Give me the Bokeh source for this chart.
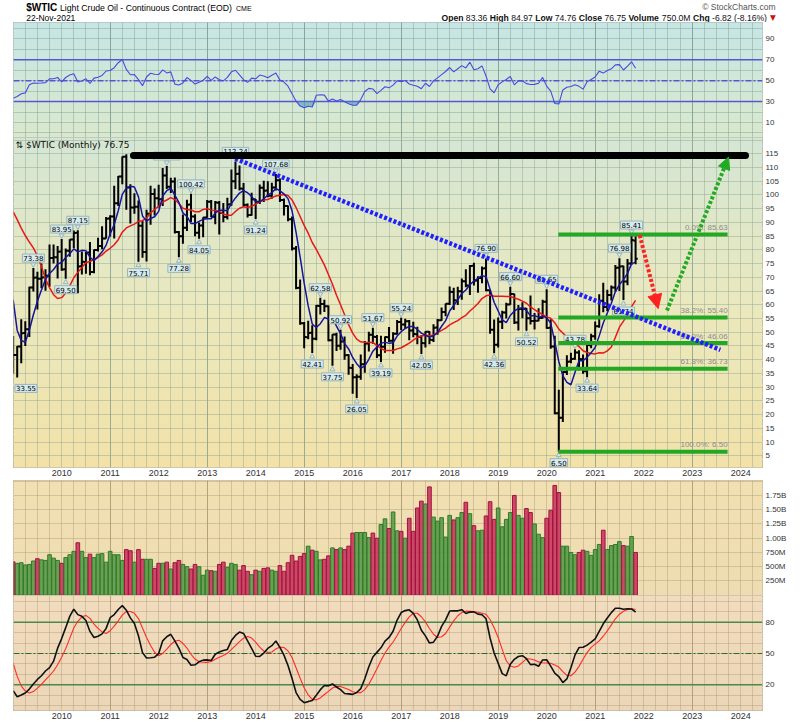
import numpy as np
from bokeh.plotting import figure
from bokeh.layouts import column
from bokeh.models import Range1d, FixedTicker, Grid, Arrow, NormalHead
from bokeh.embed import file_html
from bokeh.resources import INLINE
from bokeh.core.properties import value

# ---------------- DATA (monthly, Jan 2009 .. Nov 2021) ----------------
START_YEAR = 2009
opens = [
    44.6, 41.7, 44.8, 49.7, 51.1, 66.3, 69.9, 69.5, 70.0, 70.6, 77.0, 77.3,
    79.4, 72.9, 79.7, 83.8, 86.2, 74.0, 75.6, 79.0, 71.9, 80.0, 81.4, 84.1,
    91.4, 92.2, 97.0, 106.7, 113.9, 102.7, 95.4, 95.7, 88.8, 79.2, 93.2, 100.4,
    98.8, 98.5, 107.1, 103.0, 104.9, 86.5, 85.0, 88.1, 96.5, 92.2, 86.2, 88.9,
    91.8, 97.5, 92.1, 97.2, 93.5, 92.0, 96.6, 105.0, 107.7, 102.3, 96.4, 92.7,
    98.4, 97.5, 102.6, 101.6, 99.7, 102.7, 105.4, 98.2, 96.0, 91.2, 80.5, 66.2,
    53.3, 48.2, 49.8, 47.6, 59.6, 60.3, 59.5, 47.1, 49.2, 45.1, 46.6, 41.7,
    37.0, 33.6, 33.8, 38.3, 45.9, 49.1, 48.3, 41.6, 44.7, 48.2, 46.9, 49.4,
    53.7, 52.8, 54.0, 50.6, 49.3, 48.3, 46.0, 50.2, 47.2, 51.7, 54.4, 57.4,
    60.4, 64.7, 61.6, 64.9, 68.6, 67.0, 74.2, 68.8, 69.8, 73.3, 65.3, 50.9,
    45.4, 53.8, 57.2, 60.1, 63.9, 53.5, 58.5, 58.6, 55.1, 54.1, 54.2, 55.2,
    61.1, 51.6, 44.8, 20.5, 18.8, 35.5, 39.3, 40.3, 42.6, 40.2, 35.8, 45.3,
    48.5, 52.2, 61.5, 59.2, 63.6, 66.3, 73.5, 74.0, 68.5, 75.0, 83.36,
]
highs = [
    48.6, 45.0, 54.7, 54.0, 66.6, 73.38, 72.0, 75.0, 72.9, 82.0, 82.0, 81.4,
    83.95, 80.5, 83.9, 87.1, 87.15, 79.4, 79.2, 82.9, 80.1, 84.4, 88.6, 92.0,
    92.6, 103.4, 106.9, 114.0, 114.8, 103.9, 100.6, 98.0, 90.5, 94.6, 103.4, 102.4,
    103.7, 109.8, 110.55, 106.3, 106.4, 86.9, 92.9, 98.3, 100.42, 93.0, 90.0, 91.9,
    98.2, 98.2, 97.8, 97.8, 97.1, 99.0, 109.3, 112.24, 110.7, 104.4, 96.9, 100.8,
    98.5, 103.8, 105.2, 105.0, 104.5, 107.68, 106.0, 98.7, 96.2, 92.2, 81.4, 69.2,
    53.7, 54.2, 52.5, 59.9, 62.58, 61.8, 59.7, 49.3, 49.8, 50.92, 48.4, 42.0,
    38.4, 34.7, 41.9, 46.8, 50.2, 51.67, 49.0, 48.75, 48.4, 51.9, 50.0, 54.5,
    55.24, 54.9, 54.5, 53.8, 52.0, 48.9, 50.4, 50.4, 52.9, 54.8, 59.0, 60.5,
    66.7, 66.2, 66.6, 69.6, 72.9, 74.5, 75.3, 70.4, 73.9, 76.90, 65.4, 54.6,
    55.4, 57.8, 60.7, 66.60, 64.0, 59.9, 60.9, 58.8, 63.4, 57.0, 58.7, 61.8,
    65.65, 54.7, 48.7, 29.0, 35.7, 41.6, 42.5, 43.78, 43.4, 41.9, 46.0, 49.4,
    53.9, 63.8, 67.98, 65.5, 67.0, 74.5, 76.98, 74.2, 76.7, 85.41, 84.97,
]
lows = [
    35.0, 33.55, 38.7, 45.0, 48.3, 64.8, 58.3, 66.0, 65.1, 66.6, 75.0, 69.6,
    72.4, 69.50, 77.5, 80.6, 64.2, 71.0, 71.3, 70.8, 71.5, 79.4, 80.2, 84.1,
    84.9, 84.1, 96.0, 103.9, 94.6, 89.6, 93.2, 75.71, 77.1, 75.8, 89.2, 92.5,
    95.4, 96.0, 102.2, 100.7, 86.0, 77.28, 82.2, 86.9, 90.2, 85.0, 84.05, 84.6,
    91.7, 91.9, 89.3, 85.6, 90.1, 91.1, 96.1, 102.2, 101.6, 95.8, 91.8, 92.4,
    91.24, 96.7, 97.4, 99.2, 98.6, 101.6, 97.4, 92.5, 90.4, 79.8, 65.7, 52.7,
    44.2, 47.4, 42.41, 47.1, 56.5, 57.4, 46.7, 37.75, 43.2, 43.6, 40.0, 34.5,
    27.6, 26.05, 32.7, 35.2, 43.0, 45.8, 40.6, 39.19, 42.5, 46.4, 42.2, 49.2,
    50.7, 51.2, 47.1, 48.2, 45.6, 42.05, 44.4, 45.6, 46.4, 49.1, 54.2, 55.8,
    59.9, 58.1, 59.95, 61.8, 66.4, 63.6, 67.0, 64.4, 67.8, 64.9, 49.4, 42.36,
    44.4, 51.2, 55.0, 60.0, 53.0, 50.6, 55.1, 50.52, 52.8, 51.0, 54.0, 55.0,
    51.3, 44.0, 20.1, 6.50, 17.3, 34.4, 38.7, 40.0, 36.1, 34.9, 33.64, 44.2,
    47.3, 51.6, 57.3, 57.6, 61.6, 64.8, 65.0, 61.74, 67.1, 74.5, 74.76,
]
closes = [
    41.68, 44.76, 49.66, 51.12, 66.31, 69.89, 69.45, 69.96, 70.61, 77.00, 77.28, 79.36,
    72.89, 79.66, 83.76, 86.15, 73.97, 75.63, 78.95, 71.92, 79.97, 81.43, 84.11, 91.38,
    92.19, 96.97, 106.72, 113.93, 102.70, 95.42, 95.70, 88.81, 79.20, 93.19, 100.36, 98.83,
    98.48, 107.07, 103.02, 104.87, 86.53, 84.96, 88.06, 96.47, 92.19, 86.24, 88.91, 91.82,
    97.49, 92.05, 97.23, 93.46, 91.97, 96.56, 105.03, 107.65, 102.33, 96.38, 92.72, 98.42,
    97.49, 102.59, 101.58, 99.74, 102.71, 105.37, 98.17, 95.96, 91.16, 80.54, 66.15, 53.27,
    48.24, 49.76, 47.60, 59.63, 60.30, 59.47, 47.12, 49.20, 45.09, 46.59, 41.65, 37.04,
    33.62, 33.75, 38.34, 45.92, 49.10, 48.33, 41.60, 44.70, 48.24, 46.86, 49.44, 53.72,
    52.81, 54.01, 50.60, 49.33, 48.32, 46.04, 50.17, 47.23, 51.67, 54.38, 57.40, 60.42,
    64.73, 61.64, 64.94, 68.57, 67.04, 74.15, 68.76, 69.80, 73.25, 65.31, 50.93, 45.41,
    53.79, 57.22, 60.14, 63.91, 53.50, 58.47, 58.58, 55.10, 54.07, 54.18, 55.17, 61.06,
    51.56, 44.76, 20.48, 18.84, 35.49, 39.27, 40.27, 42.61, 40.22, 35.79, 45.34, 48.52,
    52.20, 61.50, 59.16, 63.58, 66.32, 73.47, 73.95, 68.50, 75.03, 83.57, 76.75,
]
volume_m = [
    586, 558, 570, 530, 540, 600, 640, 620, 610, 710, 650, 610,
    560, 660, 710, 770, 920, 770, 660, 720, 660, 720, 730, 580,
    770, 710, 710, 610, 800, 780, 580, 800, 630, 630, 630, 470,
    560, 560, 580, 460, 570, 610, 540, 500, 460, 540, 500, 350,
    440, 430, 420, 540, 580, 490, 560, 540, 440, 520, 420, 360,
    440, 420, 470, 480, 440, 420, 520, 420, 570, 700, 600, 680,
    730, 860, 790, 770, 620, 630, 690, 830, 800, 830, 800, 860,
    1090, 1100, 1100, 1100, 1010, 1090, 1000, 1240, 1340, 1170, 1460, 1130,
    1120, 1000, 1350, 1120, 1530, 1650, 1600, 1900, 1370, 1300, 1360, 1020,
    1400, 1320, 1360, 1450, 1630, 1430, 1220, 1130, 1140, 1390, 1640, 1330,
    1530, 1200, 1330, 1450, 1750, 1400, 1350, 1520, 1450, 1250, 1070, 1010,
    1350, 1490, 1925, 1800, 860, 860, 750, 710, 750, 790, 770, 700,
    800, 890, 1140, 800, 870, 890, 940, 870, 860, 1030, 750,
]
# history before the chart window (needed by the indicators)
pre_closes = [  # Jan 2006 .. Dec 2008
    67.92, 61.41, 66.63, 71.88, 71.29, 73.93, 74.40, 70.26, 62.91, 58.73, 63.13, 61.05,
    58.14, 61.79, 65.87, 65.71, 64.01, 70.68, 78.21, 74.04, 81.66, 94.53, 88.71, 95.98,
    91.75, 101.84, 101.58, 113.46, 127.35, 140.00, 124.08, 115.46, 100.64, 67.81, 54.43, 44.60,
]
pre_highs = [  # Jan 2007 .. Dec 2008
    58.8, 62.3, 68.1, 66.9, 66.6, 70.4, 78.8, 77.2, 84.1, 94.0, 99.3, 97.0,
    100.1, 102.6, 111.8, 119.9, 135.1, 140.4, 147.3, 126.0, 130.0, 103.0, 71.0, 53.0,
]
pre_lows = [
    49.9, 57.2, 56.6, 62.0, 61.3, 63.8, 69.8, 69.0, 73.9, 79.1, 86.0, 86.0,
    86.1, 86.1, 98.6, 100.4, 112.2, 122.3, 120.4, 111.3, 90.5, 62.0, 48.0, 32.4,
]
# swing-point price labels: month index
label_high_idx = [5, 12, 16, 38, 44, 55, 65, 76, 81, 89, 96, 117, 123, 132, 139, 150, 153]
label_low_idx = [13, 31, 41, 46, 60, 74, 79, 85, 91, 101, 119, 127, 135, 142, 151]
edge_low_idx = [1]
# drawn annotations (chart author's tools)
resist_x = [2011.48, 2024.10]
resist_y = [114.4, 114.4]
trend_x = [2013.58, 2023.58]
trend_y = [113.2, 43.6]
fib_names = ["0.0%", "38.2%", "50.0%", "61.8%", "100.0%"]
fib_levels = [85.63, 55.40, 46.06, 36.73, 6.50]
fib_x = [2020.24, 2023.73]
down_arrow = [2021.92, 85.3, 2022.30, 58.6]
up_arrow = [2022.48, 57.9, 2023.75, 113.8]
date_text = "22-Nov-2021"

# ---------------- indicators ----------------
N = len(closes)
xm = np.array([START_YEAR + i / 12.0 for i in range(N)])
allc = np.array(pre_closes + closes, dtype=float)
npre = len(pre_closes)

def sma(a, n):
    out = np.full(len(a), np.nan)
    for i in range(n - 1, len(a)):
        out[i] = a[i - n + 1:i + 1].mean()
    return out

sma5 = sma(allc, 5)[npre:]
sma15 = sma(allc, 15)[npre:]

d = np.diff(allc)
g = np.clip(d, 0, None); l = np.clip(-d, 0, None)
rsi_all = np.full(len(allc), np.nan)
ag = g[:14].mean(); al = l[:14].mean()
rsi_all[14] = 100 - 100 / (1 + ag / al)
for i in range(14, len(d)):
    ag = (ag * 13 + g[i]) / 14
    al = (al * 13 + l[i]) / 14
    rsi_all[i + 1] = 100 - 100 / (1 + ag / al)
rsi = rsi_all[npre:]

# full stochastics (14, 5, 5)
sh = np.array(pre_highs + highs); sl = np.array(pre_lows + lows)
sc = np.array(pre_closes[12:] + closes)
fk = np.full(len(sc), np.nan)
for i in range(13, len(sc)):
    hh = sh[i - 13:i + 1].max(); ll = sl[i - 13:i + 1].min()
    fk[i] = 100 * (sc[i] - ll) / (hh - ll)
sk = sma(fk, 5); sd = sma(sk, 5)
npre2 = len(pre_highs)
stoch_k = sk[npre2:]; stoch_d = sd[npre2:]

down = [closes[i] < (closes[i - 1] if i > 0 else pre_closes[-1]) for i in range(N)]
vol_fill = ["#c8385e" if dn else "#5b9a48" for dn in down]
vol_line = ["#a3123e" if dn else "#2f7a2a" for dn in down]

# ---------------- layout helpers ----------------
X0, X1 = 2009.007, 2024.45
FW = 749
LEFT = 13
FONT = "Liberation Sans"

def lerp_colors(stops, nb):
    out = []
    for k in range(nb):
        f = (k + 0.5) / nb
        for j in range(len(stops) - 1):
            f0, c0 = stops[j]; f1, c1 = stops[j + 1]
            if f0 <= f <= f1:
                t = (f - f0) / (f1 - f0)
                c = tuple(int(round(c0[m] + (c1[m] - c0[m]) * t)) for m in range(3))
                out.append("#%02x%02x%02x" % c)
                break
    return out

def panel(fh, y0, y1, stops, yticks, ygrid, gcol, galpha, below=False):
    p = figure(frame_width=FW, frame_height=fh, x_range=Range1d(X0, X1), y_range=Range1d(y0, y1),
               output_backend="svg", toolbar_location=None, title=None,
               x_axis_location=("below" if below else None), y_axis_location="right",
               min_border_left=LEFT, min_border_right=0, min_border_top=0,
               min_border_bottom=(13 if below else 0))
    p.outline_line_color = "#9a9a9a"
    p.xgrid.visible = False
    p.ygrid.visible = False
    nb = 40
    edges = np.linspace(y0, y1, nb + 1)
    cols = lerp_colors(stops, nb)
    p.quad(left=X0 - 1, right=X1 + 1, bottom=edges[:-1], top=edges[1:], fill_color=cols,
           line_color=cols, line_width=1, level="image")
    quarters = [2009 + q / 4 for q in range(1, 62)]
    p.add_layout(Grid(dimension=0, ticker=FixedTicker(ticks=quarters), grid_line_color=gcol, grid_line_alpha=galpha))
    p.add_layout(Grid(dimension=0, ticker=FixedTicker(ticks=list(range(2011, 2025, 2))), grid_line_color=gcol,
                      grid_line_alpha=min(1.0, galpha * 1.8)))
    p.add_layout(Grid(dimension=1, ticker=FixedTicker(ticks=ygrid), grid_line_color=gcol, grid_line_alpha=galpha))
    ya = p.yaxis[0]
    ya.ticker = FixedTicker(ticks=yticks)
    ya.axis_line_color = None
    ya.major_tick_line_color = None
    ya.minor_tick_line_color = None
    ya.major_tick_out = 0
    ya.major_tick_in = 0
    ya.minor_tick_out = 0
    ya.major_label_text_font = FONT
    ya.major_label_text_font_size = "8px"
    ya.major_label_text_color = "#333333"
    ya.major_label_standoff = 3
    if below:
        xa = p.xaxis[0]
        xa.ticker = FixedTicker(ticks=list(range(2010, 2025)))
        xa.major_label_overrides = {yy: str(yy) for yy in range(2010, 2025)}
        xa.axis_line_color = None
        xa.major_tick_line_color = None
        xa.minor_tick_line_color = None
        xa.major_tick_out = 0
        xa.major_tick_in = 0
        xa.minor_tick_out = 0
        xa.major_label_text_font = FONT
        xa.major_label_text_font_size = "9px"
        xa.major_label_text_color = "#333333"
        xa.major_label_standoff = 2
    return p

# ---------------- header (screen-pixel coordinates, y measured from top) ----------------
HH = 22
HW = 792
hdr = figure(frame_width=HW, frame_height=HH, output_backend="svg", toolbar_location=None, title=None,
             x_axis_location=None, y_axis_location=None, min_border=0, x_range=Range1d(0, HW),
             y_range=Range1d(HH, 0))
hdr.outline_line_color = None
hdr.xgrid.visible = False
hdr.ygrid.visible = False

def htext(x_abs, mid_abs, txt, size, bold=False, color="#000000", align="left", font=FONT):
    hdr.text(x=[x_abs], y=[mid_abs], text=[txt], text_font=value(font), text_font_size=size,
             text_font_style=("bold" if bold else "normal"), text_color=color, text_align=align,
             text_baseline="middle")

W_R = {c: 556 for c in "0123456789"}
W_R.update({" ": 278, ".": 278, "-": 333, "(": 333, ")": 333, "%": 889, "M": 833})
W_B = {"O": 778, "p": 611, "e": 556, "n": 611, "H": 722, "i": 278, "g": 611, "h": 611, "L": 611, "o": 611,
       "w": 778, "C": 722, "l": 278, "s": 556, "V": 667, "u": 611, "m": 889, " ": 278}

def tw(s, size, bold):
    tab = W_B if bold else W_R
    return sum(tab.get(ch, 556) for ch in s) * size / 1000.0

R1, R2 = 6.8, 17.3
htext(12.7, R1, "$WTIC", "10px", bold=True)
htext(46.5, R1 + 0.5, "Light Crude Oil - Continuous Contract (EOD)", "8.7px")
htext(222.5, R1 + 0.8, "CME", "7px")
htext(762, 6.3, "\u00a9 StockCharts.com", "8.5px", color="#555555", align="right")
htext(12.7, R2, date_text, "8.5px")
chg = closes[-1] - closes[-2]
pct = 100 * chg / closes[-2]
items = [("Open", True), (f"{opens[-1]:.2f}", False), ("High", True), (f"{highs[-1]:.2f}", False),
         ("Low", True), (f"{lows[-1]:.2f}", False), ("Close", True), (f"{closes[-1]:.2f}", False),
         ("Volume", True), (f"{volume_m[-1]:.1f}M", False), ("Chg", True), (f"{chg:.2f} ({pct:.2f}%)", False)]
HS = 8.6
cx = 428.0
for t, b in items:
    htext(cx, R2, t, f"{HS}px", bold=b, color="#111111")
    cx += tw(t, HS, b) + tw(" ", HS, False)
htext(cx + 0.5, R2, "\u25bc", "7.5px", color="#cc1111", font="DejaVu Sans")

# ---------------- RSI panel ----------------
prs = panel(115, -4.3, 105.5, [(0, (218, 232, 205)), (1, (198, 230, 228))], [10, 30, 50, 70, 90],
            list(range(0, 101, 10)), "#7f9e94", 0.45)
for lv, dash in [(70, "solid"), (30, "solid"), (50, "6 2 2 2")]:
    prs.line(x=[X0, X1], y=[lv, lv], line_color="#5656d4", line_width=1.5, line_dash=dash)
prs.varea(x=xm, y1=np.minimum(rsi, 30), y2=np.full(N, 30.0), fill_color="#4f9ab8", fill_alpha=0.6)
prs.line(x=xm, y=rsi, line_color="#4a4ae0", line_width=1.1)

# ---------------- price panel ----------------
PY0, PY1 = 0.72, 120.94
pm = panel(330, PY0, PY1, [(0, (242, 226, 168)), (0.5, (234, 232, 190)), (1, (212, 230, 212))],
           list(range(5, 116, 5)), list(range(5, 121, 5)), "#8fa590", 0.45, below=True)
tick = 0.045
pm.segment(x0=xm, y0=lows, x1=xm, y1=highs, line_color="black", line_width=2)
pm.segment(x0=xm - tick, y0=opens, x1=xm, y1=opens, line_color="black", line_width=2)
pm.segment(x0=xm, y0=closes, x1=xm + tick, y1=closes, line_color="black", line_width=2)
pm.line(x=xm, y=sma15, line_color="#e81818", line_width=1.5)
pm.line(x=xm, y=sma5, line_color="#14149c", line_width=1.5)

BOXF, BOXL = "#d6ebee", "#98b4ba"
hx = xm[label_high_idx]; hy = np.array(highs)[label_high_idx]
lx = xm[label_low_idx]; ly = np.array(lows)[label_low_idx]
box = dict(text_font=value("DejaVu Sans"), text_font_size="7px", text_color="#000000",
           background_fill_color=BOXF, border_line_color=BOXL, padding=1)
pm.scatter(x=hx, y=hy + 1.3, marker="inverted_triangle", size=5, fill_color=BOXF, line_color=BOXL)
pm.scatter(x=lx, y=ly - 1.3, marker="triangle", size=5, fill_color=BOXF, line_color=BOXL)
pm.text(x=hx, y=hy, text=[f"{v:.2f}" for v in hy], text_align="center", text_baseline="bottom", y_offset=-6, **box)
pm.text(x=lx, y=ly, text=[f"{v:.2f}" for v in ly], text_align="center", text_baseline="top", y_offset=7, **box)
ex = [X0] * len(edge_low_idx); ey = [lows[i] for i in edge_low_idx]
pm.text(x=ex, y=ey, text=[f"{v:.2f}" for v in ey], text_align="left", text_baseline="top", x_offset=1.5,
        y_offset=7, **box)

pm.segment(x0=[fib_x[0]] * 5, x1=[fib_x[1]] * 5, y0=fib_levels, y1=fib_levels, line_color="#22a822", line_width=4)
pm.text(x=[fib_x[1]] * 5, y=fib_levels, text=[f"{nm}: {lv:.2f}" for nm, lv in zip(fib_names, fib_levels)],
        text_align="right", text_baseline="middle", y_offset=-7, text_color="#8c8c8c",
        text_font=value(FONT), text_font_size="8px")
pm.line(x=trend_x, y=trend_y, line_color="#1e1eff", line_width=4.5, line_dash="3 2")
pm.line(x=resist_x, y=resist_y, line_color="black", line_width=7, line_cap="round")
pm.add_layout(Arrow(end=NormalHead(size=14, fill_color="#ff2222", line_color="#ff2222"),
                    x_start=down_arrow[0], y_start=down_arrow[1], x_end=down_arrow[2], y_end=down_arrow[3],
                    line_color="#ff2222", line_width=4, line_dash="3 2"))
pm.add_layout(Arrow(end=NormalHead(size=12, fill_color="#22aa22", line_color="#22aa22"),
                    x_start=up_arrow[0], y_start=up_arrow[1], x_end=up_arrow[2], y_end=up_arrow[3],
                    line_color="#22aa22", line_width=4, line_dash="3 2"))
pm.text(x=[X0], y=[PY1], text=[f"\u21c5 $WTIC (Monthly) {closes[-1]:.2f}"], x_offset=2, y_offset=7.5,
        text_font=value("DejaVu Sans"), text_font_size="9px", text_color="#111111", text_baseline="middle")

# ---------------- volume panel ----------------
pv = panel(115, -5, 2012, [(0, (238, 220, 178)), (1, (241, 224, 178))],
           [250, 500, 750, 1000, 1250, 1500, 1750], list(range(250, 2001, 250)), "#a8966e", 0.4)
pv.yaxis[0].major_label_overrides = {250: "250M", 500: "500M", 750: "750M", 1000: "1.00B",
                                     1250: "1.25B", 1500: "1.50B", 1750: "1.75B"}
pv.vbar(x=xm, top=volume_m, bottom=0, width=1 / 12 * 0.9, fill_color=vol_fill,
        line_color=vol_line, line_width=1, fill_alpha=0.9)

# ---------------- stochastic panel ----------------
pst = panel(115, -4.6, 105.6, [(0, (236, 214, 184)), (1, (242, 220, 190))], [20, 50, 80],
            list(range(0, 101, 10)), "#a8966e", 0.4, below=True)
for lv, dash, col in [(80, "solid", "#4a8a4a"), (20, "solid", "#4a8a4a"), (50, "6 2 2 2", "#2a6a2a")]:
    pst.line(x=[X0, X1], y=[lv, lv], line_color=col, line_width=1.5 if dash == "solid" else 1.1, line_dash=dash)
pst.line(x=xm, y=stoch_d, line_color="#ff2a2a", line_width=1.1)
pst.line(x=xm, y=stoch_k, line_color="#111111", line_width=1.6)

root = column(hdr, prs, pm, pv, pst, spacing=0)
open("out.html", "w").write(file_html(root, INLINE))
